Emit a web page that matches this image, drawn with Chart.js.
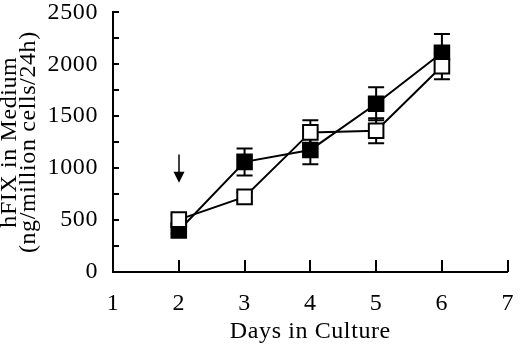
<!DOCTYPE html>
<html>
<head>
<meta charset="utf-8">
<script src="https://cdn.jsdelivr.net/npm/chart.js@4"></script>
<style>
  html, body { margin: 0; padding: 0; background: #fff; }
  #wrap { width: 520px; height: 361px; }
</style>
</head>
<body>
<div id="wrap"><canvas id="chart" width="520" height="361"></canvas></div>
<script>
// ------------------------------------------------------------------------
// Data
// ------------------------------------------------------------------------
const days = [2, 3, 4, 5, 6];

const filledValues = [400, 1060, 1175, 1620, 2110];
const filledErrors = [30, 130, 137, 158, 180];

const openValues = [504, 723, 1344, 1360, 1980];
const openErrors = [40, 45, 118, 120, 125];

const xTicks = [1, 2, 3, 4, 5, 6, 7];
const yMax = 2500;

// arrow marking the treatment day
const arrowDay = 2;
const arrowFrom = 1132;
const arrowTo = 859;

const FONT = "'Liberation Serif', 'Times New Roman', serif";

// ------------------------------------------------------------------------
// Plugins: letter spacing, error bars, inward ticks, arrow
// ------------------------------------------------------------------------
const spacing = {
    id: 'spacing',
    beforeLayout(chart) { chart.ctx.letterSpacing = '0.6px'; },
    beforeDraw(chart) { chart.ctx.letterSpacing = '0.6px'; }
};

const errorBars = {
    id: 'errorBars',
    beforeDatasetsDraw(chart) {
        const { ctx, scales: { x, y } } = chart;
        ctx.save();
        ctx.strokeStyle = '#000';
        ctx.lineWidth = 2;
        chart.data.datasets.forEach(ds => {
            ds.data.forEach((p, i) => {
                const err = ds.errors[i];
                const px = x.getPixelForValue(p.x);
                const top = y.getPixelForValue(p.y + err);
                const bot = y.getPixelForValue(p.y - err);
                const cap = 8;
                ctx.beginPath();
                ctx.moveTo(px, top); ctx.lineTo(px, bot);
                ctx.moveTo(px - cap, top); ctx.lineTo(px + cap, top);
                ctx.moveTo(px - cap, bot); ctx.lineTo(px + cap, bot);
                ctx.stroke();
            });
        });
        ctx.restore();
    }
};

const innerTicks = {
    id: 'innerTicks',
    afterDraw(chart) {
        const { ctx, scales: { x, y }, chartArea } = chart;
        ctx.save();
        ctx.strokeStyle = '#000';
        ctx.lineWidth = 2;
        ctx.beginPath();
        y.ticks.forEach(t => {
            const py = Math.round(y.getPixelForValue(t.value));
            ctx.moveTo(chartArea.left, py);
            ctx.lineTo(chartArea.left + 6, py);
        });
        x.ticks.forEach(t => {
            const px = Math.round(x.getPixelForValue(t.value));
            ctx.moveTo(px, chartArea.bottom);
            ctx.lineTo(px, chartArea.bottom - 12);
        });
        ctx.stroke();

        // arrow
        const ax = Math.round(x.getPixelForValue(arrowDay));
        const ay0 = y.getPixelForValue(arrowFrom);
        const ay1 = y.getPixelForValue(arrowTo);
        ctx.lineWidth = 1.5;
        ctx.beginPath();
        ctx.moveTo(ax, ay0);
        ctx.lineTo(ax, ay1 - 8);
        ctx.stroke();
        ctx.fillStyle = '#000';
        ctx.beginPath();
        ctx.moveTo(ax - 5.5, ay1 - 11);
        ctx.lineTo(ax + 5.5, ay1 - 11);
        ctx.lineTo(ax, ay1);
        ctx.closePath();
        ctx.fill();
        ctx.restore();
    }
};

// ------------------------------------------------------------------------
// Chart
// ------------------------------------------------------------------------
new Chart(document.getElementById('chart'), {
    type: 'line',
    data: {
        datasets: [
            {
                label: 'open',
                data: days.map((d, i) => ({ x: d, y: openValues[i] })),
                errors: openErrors,
                borderColor: '#000',
                borderWidth: 2,
                pointStyle: 'rect',
                pointRadius: 10.3,
                pointBackgroundColor: '#fff',
                pointBorderColor: '#000',
                pointBorderWidth: 2,
                order: 1
            },
            {
                label: 'filled',
                data: days.map((d, i) => ({ x: d, y: filledValues[i] })),
                errors: filledErrors,
                borderColor: '#000',
                borderWidth: 2,
                pointStyle: 'rect',
                pointRadius: 10.3,
                pointBackgroundColor: '#000',
                pointBorderColor: '#000',
                pointBorderWidth: 2,
                order: 2
            }
        ]
    },
    options: {
        responsive: false,
        animation: false,
        layout: { padding: { top: 0, right: 8, left: 0, bottom: 0 } },
        plugins: {
            legend: { display: false },
            tooltip: { enabled: false }
        },
        scales: {
            x: {
                type: 'linear',
                min: 1,
                max: 7,
                afterBuildTicks: s => { s.ticks = xTicks.map(v => ({ value: v })); },
                afterFit: s => { s.height = 89; },
                grid: { drawOnChartArea: false, drawTicks: true, tickLength: 17, tickColor: 'rgba(0,0,0,0)' },
                border: { color: '#000', width: 2 },
                ticks: { color: '#000', font: { family: FONT, size: 24 }, padding: 0 },
                title: {
                    display: true,
                    text: 'Days in Culture',
                    color: '#000',
                    font: { family: FONT, size: 24 },
                    padding: { top: 0, bottom: 15 }
                }
            },
            y: {
                min: 0,
                max: yMax,
                afterFit: s => { s.width = 113; },
                ticks: {
                    stepSize: 250,
                    color: '#000',
                    font: { family: FONT, size: 24, lineHeight: 0.75 },
                    padding: 0,
                    callback: v => (v % 500 === 0 ? v : '')
                },
                grid: { drawOnChartArea: false, drawTicks: true, tickLength: 15, tickColor: 'rgba(0,0,0,0)' },
                border: { color: '#000', width: 2 },
                title: {
                    display: true,
                    text: ['hFIX in Medium', '(ng/million cells/24h)'],
                    color: '#000',
                    font: { family: FONT, size: 24, lineHeight: 0.8 },
                    padding: { top: 0, bottom: 0 }
                }
            }
        }
    },
    plugins: [spacing, errorBars, innerTicks]
});
</script>
</body>
</html>
